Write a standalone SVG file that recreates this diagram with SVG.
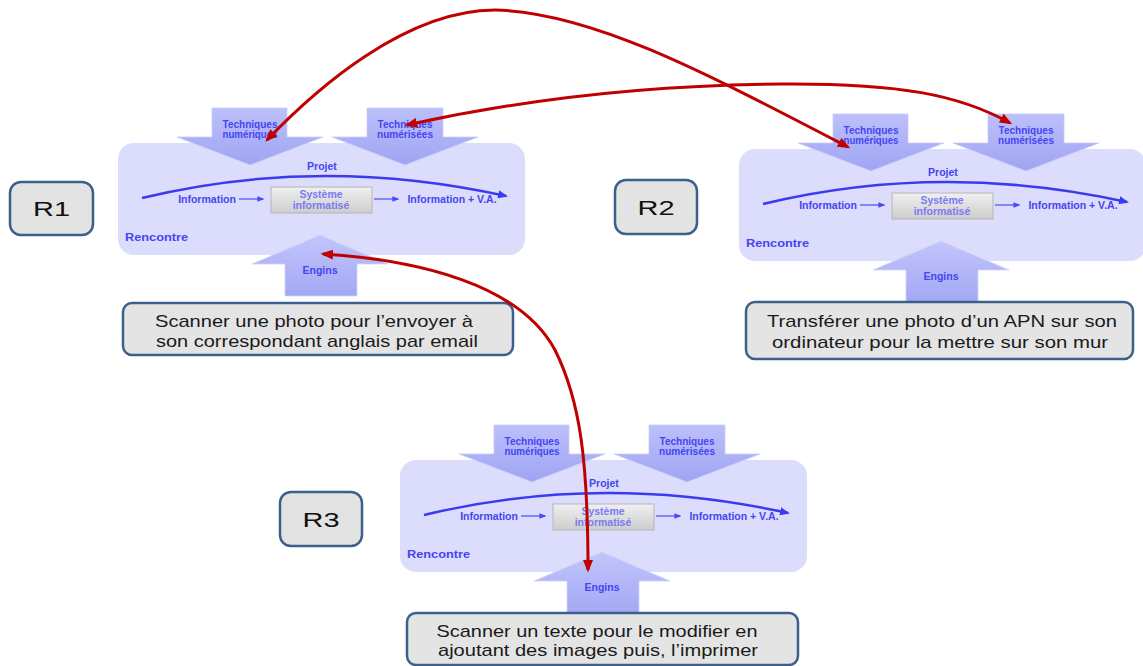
<svg xmlns="http://www.w3.org/2000/svg" width="1143" height="666" viewBox="0 0 1143 666">
  <defs>
    <linearGradient id="gArrow" x1="0" y1="0" x2="0" y2="1">
      <stop offset="0" stop-color="#bcc0fa"/>
      <stop offset="1" stop-color="#9fa4f3"/>
    </linearGradient>
    <linearGradient id="gUp" x1="0" y1="0" x2="0" y2="1">
      <stop offset="0" stop-color="#c2c5fb"/>
      <stop offset="1" stop-color="#a3a8f4"/>
    </linearGradient>
    <linearGradient id="gSys" x1="0" y1="0" x2="0" y2="1">
      <stop offset="0" stop-color="#f0f0f0"/>
      <stop offset="1" stop-color="#cdcdcd"/>
    </linearGradient>
    <marker id="redHead" viewBox="0 0 10 8" refX="8" refY="4" markerWidth="13" markerHeight="10" markerUnits="userSpaceOnUse" orient="auto-start-reverse">
      <path d="M0,0 L10,4 L0,8 z" fill="#c00000"/>
    </marker>
    <marker id="blueHead" viewBox="0 0 10 8" refX="8" refY="4" markerWidth="10" markerHeight="8" markerUnits="userSpaceOnUse" orient="auto">
      <path d="M0,0 L10,4 L0,8 z" fill="#3a3af0"/>
    </marker>
    <marker id="blueSmall" viewBox="0 0 10 8" refX="8" refY="4" markerWidth="7" markerHeight="6" markerUnits="userSpaceOnUse" orient="auto">
      <path d="M0,0 L10,4 L0,8 z" fill="#4a4af5"/>
    </marker>
  </defs>
  <style>
    .panel { fill: #dcdcfc; }
    .arr { fill: url(#gArrow); stroke: #c9ccf8; stroke-width: 0.8; }
    .up { fill: url(#gUp); stroke: #d0d3fa; stroke-width: 0.8; }
    .lbl { font-family: "Liberation Sans", Arial, sans-serif; font-weight: bold; fill: #4545f2; text-anchor: middle; }
    .tech { font-size: 10px; }
    .small { font-size: 10.5px; }
    .sysbox { fill: url(#gSys); stroke: #b5b5b5; stroke-width: 1; }
    .systxt { font-family: "Liberation Sans", Arial, sans-serif; font-weight: bold; font-size: 10.5px; fill: #7a7af3; text-anchor: middle; }
    .projet { fill: none; stroke: #3a3af0; stroke-width: 2.5; }
    .flow { fill: none; stroke: #4a4af5; stroke-width: 1.2; }
    .desc { fill: #e4e4e4; stroke: #3d5f8c; stroke-width: 2.5; }
    .desctxt { font-family: "Liberation Sans", Arial, sans-serif; font-size: 17px; fill: #1a1a1a; text-anchor: middle; }
    .rbox { fill: #e3e3e3; stroke: #3d5f8c; stroke-width: 2.5; }
    .rtxt { font-family: "Liberation Sans", Arial, sans-serif; font-size: 21px; fill: #111; text-anchor: middle; }
    .red { fill: none; stroke: #c00000; stroke-width: 3; marker-start: url(#redHead); marker-end: url(#redHead); }
  </style>

  <rect width="1143" height="666" fill="#ffffff"/>

  <!-- R1 diagram panel -->
  <g id="panel-r1">
    <rect class="panel" x="118" y="143" width="407" height="112" rx="16"/>
    <polygon class="arr" points="212,108 287,108 287,137 323,137 250,165 177,137 212,137"/>
    <polygon class="arr" points="367,108 443,108 443,137 478,137 405,165 332,137 367,137"/>
    <text class="lbl tech" x="250" y="128" textLength="55" lengthAdjust="spacingAndGlyphs">Techniques</text>
    <text class="lbl tech" x="250" y="138" textLength="55" lengthAdjust="spacingAndGlyphs">numériques</text>
    <text class="lbl tech" x="405" y="128" textLength="55" lengthAdjust="spacingAndGlyphs">Techniques</text>
    <text class="lbl tech" x="405" y="138" textLength="56" lengthAdjust="spacingAndGlyphs">numérisées</text>
    <path class="projet" d="M142,198 Q320,155 506,196" marker-end="url(#blueHead)"/>
    <text class="lbl small" x="322" y="170">Projet</text>
    <text class="lbl small" x="207" y="203">Information</text>
    <line class="flow" x1="239" y1="199" x2="263" y2="199" marker-end="url(#blueSmall)"/>
    <rect class="sysbox" x="271" y="187" width="101" height="26"/>
    <text class="systxt" x="321" y="198">Système</text>
    <text class="systxt" x="321" y="209">informatisé</text>
    <line class="flow" x1="374" y1="199" x2="398" y2="199" marker-end="url(#blueSmall)"/>
    <text class="lbl small" x="452" y="203">Information + V.A.</text>
    <text class="lbl small" x="125" y="241" style="text-anchor:start" textLength="63" lengthAdjust="spacingAndGlyphs">Rencontre</text>
    <polygon class="up" points="320,235 388,264 357,264 357,296 285,296 285,264 252,264"/>
    <text class="lbl small" x="320" y="274">Engins</text>
  </g>

  <!-- R2 diagram panel -->
  <g id="panel-r2" transform="translate(621,6)">
    <rect class="panel" x="118" y="143" width="407" height="112" rx="16"/>
    <polygon class="arr" points="212,108 287,108 287,137 323,137 250,165 177,137 212,137"/>
    <polygon class="arr" points="367,108 443,108 443,137 478,137 405,165 332,137 367,137"/>
    <text class="lbl tech" x="250" y="128" textLength="55" lengthAdjust="spacingAndGlyphs">Techniques</text>
    <text class="lbl tech" x="250" y="138" textLength="55" lengthAdjust="spacingAndGlyphs">numériques</text>
    <text class="lbl tech" x="405" y="128" textLength="55" lengthAdjust="spacingAndGlyphs">Techniques</text>
    <text class="lbl tech" x="405" y="138" textLength="56" lengthAdjust="spacingAndGlyphs">numérisées</text>
    <path class="projet" d="M142,198 Q320,155 506,196" marker-end="url(#blueHead)"/>
    <text class="lbl small" x="322" y="170">Projet</text>
    <text class="lbl small" x="207" y="203">Information</text>
    <line class="flow" x1="239" y1="199" x2="263" y2="199" marker-end="url(#blueSmall)"/>
    <rect class="sysbox" x="271" y="187" width="101" height="26"/>
    <text class="systxt" x="321" y="198">Système</text>
    <text class="systxt" x="321" y="209">informatisé</text>
    <line class="flow" x1="374" y1="199" x2="398" y2="199" marker-end="url(#blueSmall)"/>
    <text class="lbl small" x="452" y="203">Information + V.A.</text>
    <text class="lbl small" x="125" y="241" style="text-anchor:start" textLength="63" lengthAdjust="spacingAndGlyphs">Rencontre</text>
    <polygon class="up" points="320,235 388,264 357,264 357,296 285,296 285,264 252,264"/>
    <text class="lbl small" x="320" y="274">Engins</text>
  </g>

  <!-- R3 diagram panel -->
  <g id="panel-r3" transform="translate(282,317)">
    <rect class="panel" x="118" y="143" width="407" height="112" rx="16"/>
    <polygon class="arr" points="212,108 287,108 287,137 323,137 250,165 177,137 212,137"/>
    <polygon class="arr" points="367,108 443,108 443,137 478,137 405,165 332,137 367,137"/>
    <text class="lbl tech" x="250" y="128" textLength="55" lengthAdjust="spacingAndGlyphs">Techniques</text>
    <text class="lbl tech" x="250" y="138" textLength="55" lengthAdjust="spacingAndGlyphs">numériques</text>
    <text class="lbl tech" x="405" y="128" textLength="55" lengthAdjust="spacingAndGlyphs">Techniques</text>
    <text class="lbl tech" x="405" y="138" textLength="56" lengthAdjust="spacingAndGlyphs">numérisées</text>
    <path class="projet" d="M142,198 Q320,155 506,196" marker-end="url(#blueHead)"/>
    <text class="lbl small" x="322" y="170">Projet</text>
    <text class="lbl small" x="207" y="203">Information</text>
    <line class="flow" x1="239" y1="199" x2="263" y2="199" marker-end="url(#blueSmall)"/>
    <rect class="sysbox" x="271" y="187" width="101" height="26"/>
    <text class="systxt" x="321" y="198">Système</text>
    <text class="systxt" x="321" y="209">informatisé</text>
    <line class="flow" x1="374" y1="199" x2="398" y2="199" marker-end="url(#blueSmall)"/>
    <text class="lbl small" x="452" y="203">Information + V.A.</text>
    <text class="lbl small" x="125" y="241" style="text-anchor:start" textLength="63" lengthAdjust="spacingAndGlyphs">Rencontre</text>
    <polygon class="up" points="320,235 388,264 357,264 357,296 285,296 285,264 252,264"/>
    <text class="lbl small" x="320" y="274">Engins</text>
  </g>

  <!-- Description boxes -->
  <g id="desc-r1">
    <rect class="desc" x="123" y="303" width="390" height="52" rx="9"/>
    <text class="desctxt" x="314" y="327" textLength="318" lengthAdjust="spacingAndGlyphs">Scanner une photo pour l’envoyer à</text>
    <text class="desctxt" x="317" y="347" textLength="322" lengthAdjust="spacingAndGlyphs">son correspondant anglais par email</text>
  </g>
  <g id="desc-r2">
    <rect class="desc" x="746" y="302" width="387" height="57" rx="9"/>
    <text class="desctxt" x="942" y="327" textLength="350" lengthAdjust="spacingAndGlyphs">Transférer une photo d’un APN sur son</text>
    <text class="desctxt" x="940" y="348" textLength="336" lengthAdjust="spacingAndGlyphs">ordinateur pour la mettre sur son mur</text>
  </g>
  <g id="desc-r3">
    <rect class="desc" x="407" y="613" width="391" height="52" rx="9"/>
    <text class="desctxt" x="597" y="637" textLength="321" lengthAdjust="spacingAndGlyphs">Scanner un texte pour le modifier en</text>
    <text class="desctxt" x="598" y="656" textLength="320" lengthAdjust="spacingAndGlyphs">ajoutant des images puis, l’imprimer</text>
  </g>

  <!-- R labels -->
  <g id="label-r1">
    <rect class="rbox" x="10" y="182" width="83" height="53" rx="11"/>
    <text class="rtxt" x="51.5" y="216" textLength="37" lengthAdjust="spacingAndGlyphs">R1</text>
  </g>
  <g id="label-r2">
    <rect class="rbox" x="615" y="180" width="82" height="54" rx="11"/>
    <text class="rtxt" x="656" y="215" textLength="37" lengthAdjust="spacingAndGlyphs">R2</text>
  </g>
  <g id="label-r3">
    <rect class="rbox" x="280" y="492" width="82" height="54" rx="11"/>
    <text class="rtxt" x="321" y="527" textLength="37" lengthAdjust="spacingAndGlyphs">R3</text>
  </g>

  <!-- Connectors -->
  <g id="connectors">
    <path class="red" d="M267,140 C315,90 405,10 495,10 C590,12 700,70 848,147"/>
    <path class="red" d="M407,125 C520,100 650,85 780,84 C900,83 960,95 1010,123"/>
    <path class="red" d="M323,254 C420,260 520,285 555,350 C580,400 588,460 588,570"/>
  </g>
</svg>
